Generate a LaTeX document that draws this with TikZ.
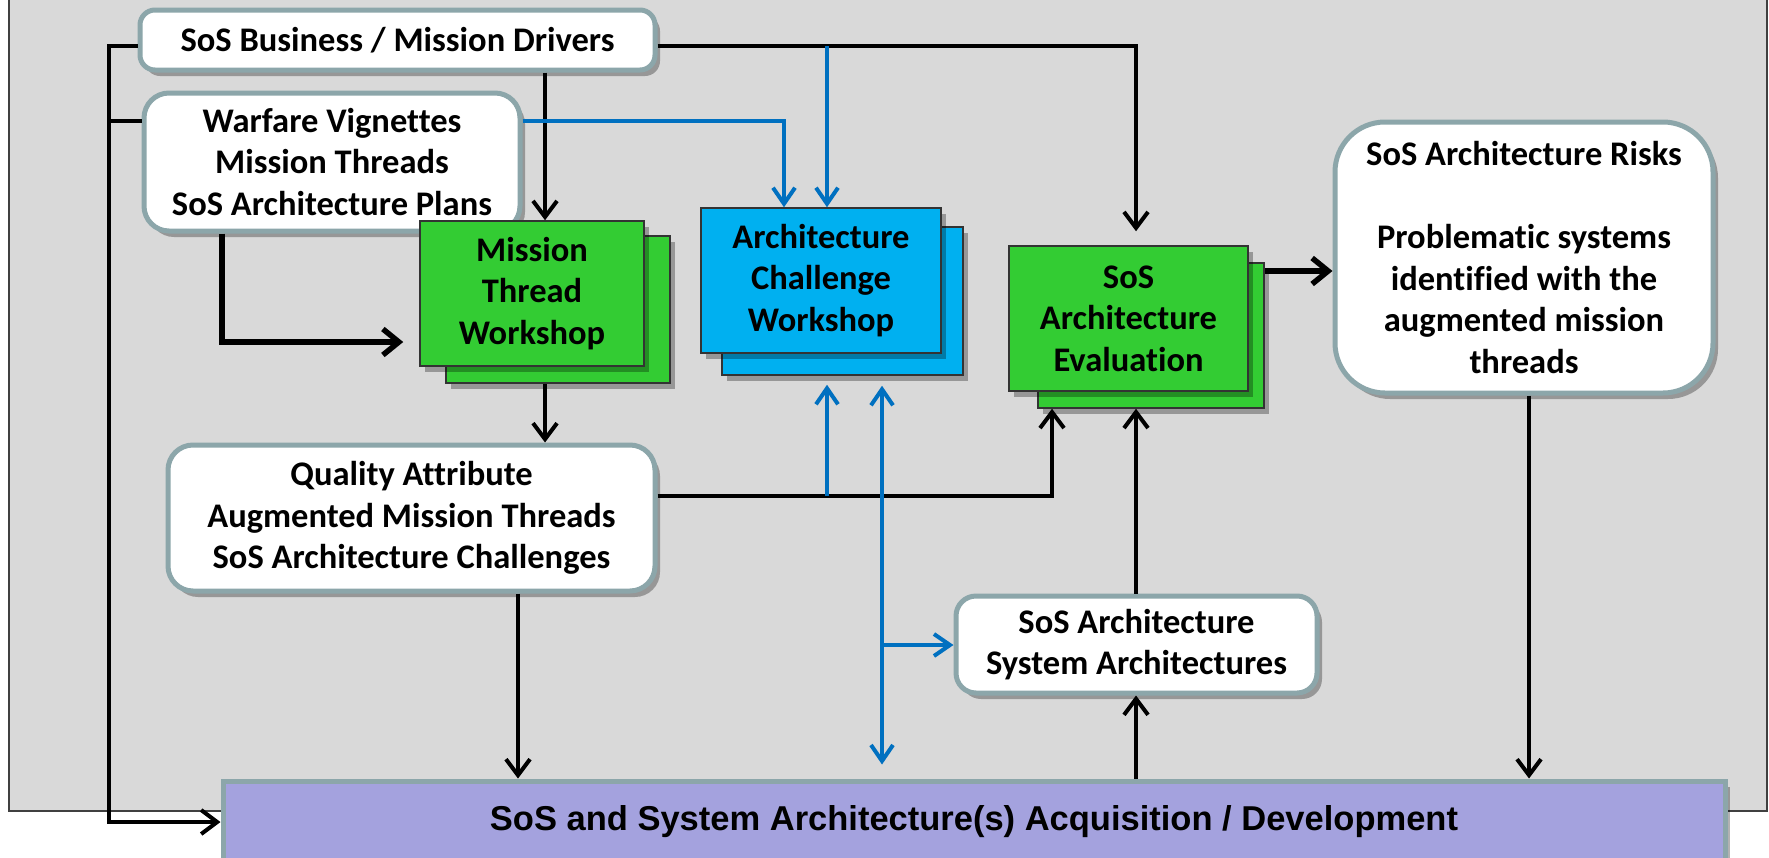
\documentclass[tikz,border=0pt]{standalone}
\usepackage{fontspec}
\setmainfont{Carlito}[Ligatures=NoCommon]
\newfontfamily\arialfont{Liberation Sans}
\usetikzlibrary{arrows.meta,shadows,calc}
\definecolor{bgc}{RGB}{217,217,217}
\definecolor{bgedge}{RGB}{64,64,64}
\definecolor{edgec}{RGB}{140,166,170}
\definecolor{greenc}{RGB}{51,204,51}
\definecolor{bluec}{RGB}{0,176,240}
\definecolor{lblue}{RGB}{0,112,192}
\definecolor{acqc}{RGB}{164,162,222}
\begin{document}
\begin{tikzpicture}[x=1pt,y=-1pt,
  every node/.style={font=\fontsize{34.5}{41.5}\selectfont\bfseries, align=center, inner sep=0pt},
  shd/.style={drop shadow={shadow xshift=5pt,shadow yshift=-6pt,opacity=0.3,fill=black}},
  rbox/.style={draw=edgec, line width=5pt, fill=white, rounded corners=#1, shd},
  rbox/.default=20pt,
  gbox/.style={draw=black!80, line width=1.5pt, fill=greenc, shd},
  bbox/.style={draw=black!80, line width=1.5pt, fill=bluec, shd},
  ln/.style={draw=black, line width=4pt, -{Straight Barb[length=16pt,width=24pt]}},
  lnk/.style={draw=black, line width=5.5pt, -{Straight Barb[length=16pt,width=26pt]}},
  lnn/.style={draw=black, line width=4pt},
  bl/.style={draw=lblue, line width=4pt, -{Straight Barb[length=16pt,width=22pt]}},
  bl2/.style={draw=lblue, line width=4pt, {Straight Barb[length=16pt,width=22pt]}-{Straight Barb[length=16pt,width=22pt]}}
]
\useasboundingbox (0,0) rectangle (1769,857);
\clip (0,0) rectangle (1769,857);
% background
\fill[bgc] (9,-10) rectangle (1767,811);
\draw[bgedge, line width=1.2pt] (9,-10) -- (9,811) -- (1767,811) -- (1767,-10);

% nodes
\node[rbox=15pt, minimum width=515pt, minimum height=60pt] (biz) at (397.5,40) {SoS Business / Mission Drivers};
\node[rbox=25pt, minimum width=376pt, minimum height=138pt] (war) at (332,162) {Warfare Vignettes\\Mission Threads\\SoS Architecture Plans};
\node[gbox, minimum width=224pt, minimum height=147pt] (mtb) at (558,309.5) {};
\node[gbox, minimum width=224pt, minimum height=145pt] (mtf) at (532,293.5) {Mission\\Thread\\Workshop};
\node[bbox, minimum width=241pt, minimum height=148pt] (acb) at (842.5,301) {};
\node[bbox, minimum width=240pt, minimum height=145pt] (acf) at (821,280.5) {Architecture\\Challenge\\Workshop};
\node[gbox, minimum width=226pt, minimum height=145pt] (evb) at (1151,335.5) {};
\node[gbox, minimum width=239pt, minimum height=145pt] (evf) at (1128.5,318.5) {SoS\\Architecture\\Evaluation};
\node[rbox=50pt, minimum width=378pt, minimum height=271pt] (risk) at (1524,257.5) {SoS Architecture Risks\\[41.5pt]Problematic systems\\identified with the\\augmented mission\\threads};
\node[rbox=25pt, minimum width=487pt, minimum height=146pt] (qa) at (411.5,518) {Quality Attribute\\Augmented Mission Threads\\SoS Architecture Challenges};
\node[rbox=20pt, minimum width=361pt, minimum height=97pt] (sa) at (1136.5,644.5) {SoS Architecture\\System Architectures};
\node[draw=edgec, line width=5pt, fill=acqc, shd, minimum width=1502pt, minimum height=82pt,
  font=\fontsize{34.5}{41.5}\selectfont\arialfont\bfseries] (acq) at (974,822) {SoS and System Architecture(s) Acquisition / Development};

% black connectors
\draw[ln] (biz.west |- 0,46) -- (109,46) |- (acq.west);
\draw[lnn] (war.west |- 0,121) -- (109,121);
\draw[ln] (545,0 |- biz.south) -- (545,0 |- mtf.north);
\draw[ln, shorten >=14pt] (biz.east |- 0,46) -| (1136,0 |- evf.north);
\draw[lnk, shorten >=16pt] (222,0 |- war.south) |- (mtf.west |- 0,342);
\draw[ln] (545,0 |- mtb.south) -- (545,0 |- qa.north);
\draw[ln] (qa.east |- 0,496) -| (1052,0 |- evb.south);
\draw[ln] (518,0 |- qa.south) -- (518,0 |- acq.north);
\draw[lnk] (evb.east |- 0,271) -- (risk.west |- 0,271);
\draw[ln] (1529,0 |- risk.south) -- (1529,0 |- acq.north);
\draw[ln] (1136,0 |- acq.north) -- (1136,0 |- sa.south);
\draw[ln] (1136,0 |- sa.north) -- (1136,0 |- evb.south);

% blue connectors
\coordinate (j1) at (827,46);
\coordinate (j2) at (827,496);
\coordinate (j3) at (882,645);
\draw[bl] (j1) -- (827,0 |- acf.north);
\draw[bl] (war.east |- 0,121) -| (784,0 |- acf.north);
\draw[bl, shorten >=9pt] (j2) -- (827,0 |- acb.south);
\draw[bl2, shorten <=14pt, shorten >=10pt] (882,0 |- acq.north) -- (882,0 |- acb.south);
\draw[bl] (j3) -- (sa.west |- j3);
\end{tikzpicture}
\end{document}
